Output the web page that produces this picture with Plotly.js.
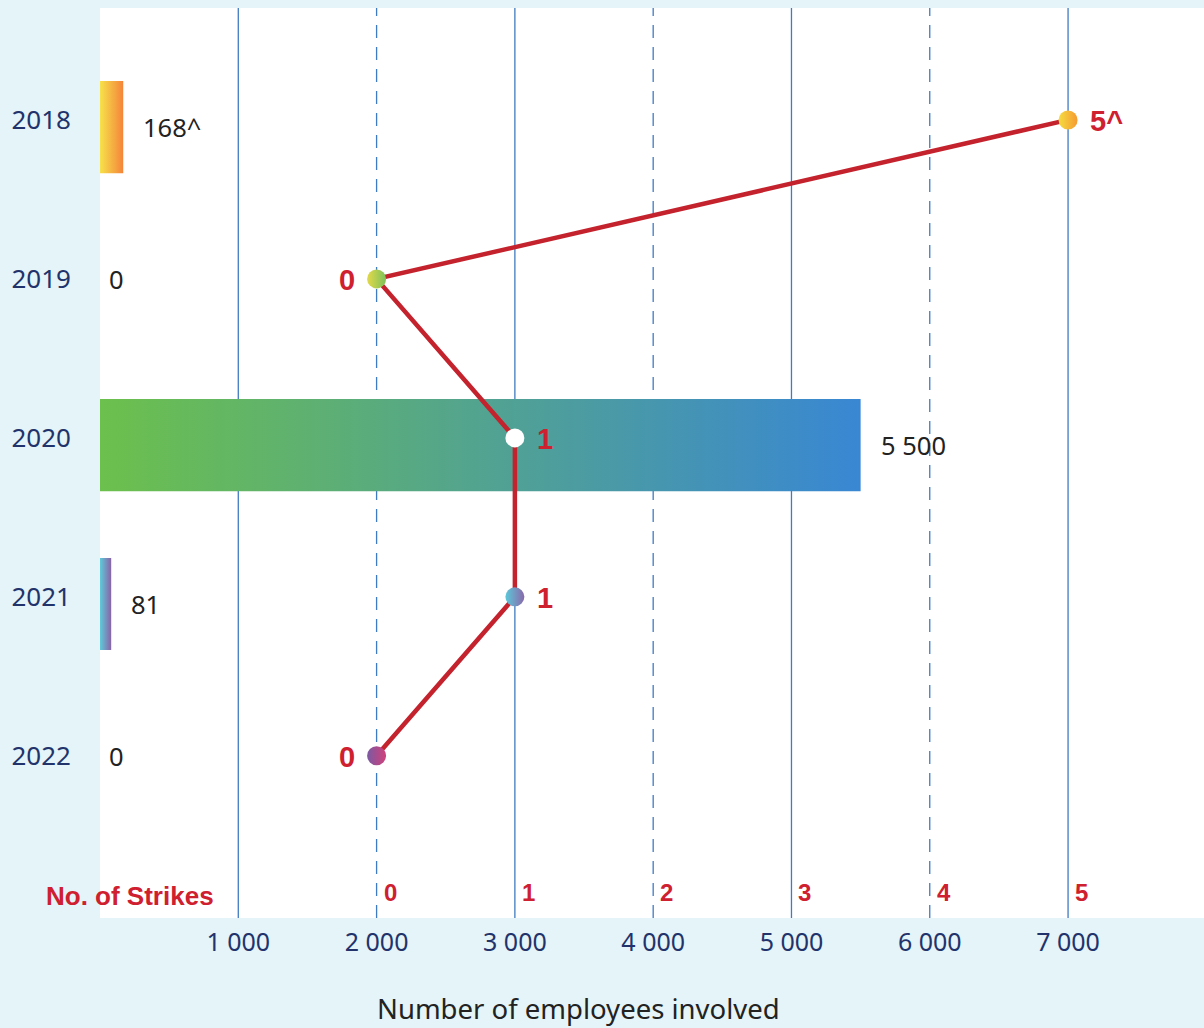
<!DOCTYPE html>
<html><head><meta charset="utf-8">
<script src="https://cdn.plot.ly/plotly-3.0.1.min.js"></script>
<style>html,body{margin:0;padding:0;background:#e4f4f8;}</style>
</head><body><div id="chart" style="width:1204px;height:1028px;"></div>
<script>
const years = [2018, 2019, 2020, 2021, 2022];
const yearLabels = ['2018', '2019', '2020', '2021', '2022'];
const employees = [168, 0, 5500, 81, 0];
const employeeLabels = ['168^', '0', '5 500', '81', '0'];
const strikes = [5, 0, 1, 1, 0];
const strikeLabels = ['5^', '0', '1', '1', '0'];
const strikeLabelSide = ['right', 'left', 'right', 'right', 'left'];
const barGradients = [['#f7e24b', '#f5843a'], null, ['#6cc04c', '#3987d3'], ['#5fcada', '#8a62a6'], null];
const markerLeft = ['#f59a30', '#7cc25a', '#ffffff', '#8a68aa', '#d2407a'];
const markerRight = ['#f6dc40', '#e4d84a', '#ffffff', '#5cc8da', '#7a5aa2'];
const xTickVals = [1000, 2000, 3000, 4000, 5000, 6000, 7000];
const xTickText = ['1 000', '2 000', '3 000', '4 000', '5 000', '6 000', '7 000'];
const gridSolid = [1000, 3000, 5000, 7000];
const gridDashed = [2000, 4000, 6000];
const strikeTicks = [0, 1, 2, 3, 4, 5];

const NAVY = '#22336b';
const RED = '#cf2030';
const GRID = '#3f7bc2';
const BARHALF = 0.29;
const BARSHIFT = 0.045;
const XMAX = 7983;
// strikes axis: 0 strikes sits at 2 000 employees, 1 strike per 1 000
const STRIKE_ORIGIN = 2000, STRIKE_STEP = 1000;

const traces = [];
years.forEach((y, i) => {
  const v = employees[i];
  if (v > 0 && barGradients[i]) {
    const c = y + BARSHIFT;
    traces.push({
      type: 'scatter', mode: 'lines', xaxis: 'x', yaxis: 'y',
      x: [0, v, v, 0, 0],
      y: [c - BARHALF, c - BARHALF, c + BARHALF, c + BARHALF, c - BARHALF],
      fill: 'toself',
      fillgradient: {type: 'horizontal', colorscale: [[0, barGradients[i][0]], [1, barGradients[i][1]]]},
      line: {width: 0, color: 'rgba(0,0,0,0)'},
      hoverinfo: 'skip', showlegend: false
    });
  }
});

traces.push({
  type: 'scatter', mode: 'lines+markers', xaxis: 'x2', yaxis: 'y',
  x: strikes, y: years,
  line: {color: '#c4222c', width: 4.5},
  marker: {size: 19, color: markerRight, gradient: {type: 'horizontal', color: markerLeft}, line: {width: 0}},
  showlegend: false
});

const shapes = [];
gridSolid.forEach(g => shapes.push({type: 'line', xref: 'x', yref: 'paper', x0: g, x1: g, y0: 0, y1: 1, layer: 'below', line: {color: GRID, width: 1.3}}));
gridDashed.forEach(g => shapes.push({type: 'line', xref: 'x', yref: 'paper', x0: g, x1: g, y0: 0, y1: 1, layer: 'below', line: {color: GRID, width: 1.3, dash: '13px,9px'}}));

const annotations = [];
years.forEach((y, i) => {
  const v = employees[i];
  annotations.push({
    xref: 'x', yref: 'y', x: v, y: y, text: employeeLabels[i], showarrow: false,
    xanchor: 'left', yanchor: 'middle', xshift: v > 0 ? 18 : 7, yshift: v > 0 ? -7 : 0,
    font: {family: 'Noto Sans, sans-serif', size: 25.5, color: '#222222'}
  });
  const right = strikeLabelSide[i] === 'right';
  annotations.push({
    xref: 'x2', yref: 'y', x: strikes[i], y: y, text: strikeLabels[i], showarrow: false,
    xanchor: right ? 'left' : 'right', yanchor: 'middle', xshift: right ? 20 : -20, yshift: -1,
    font: {family: 'Liberation Sans, Arial, sans-serif', size: 29, color: RED, weight: 'bold'}
  });
});
strikeTicks.forEach(s => annotations.push({
  xref: 'x2', yref: 'paper', x: s, y: 0.0275, text: String(s), showarrow: false,
  xanchor: 'left', yanchor: 'middle', xshift: 5,
  font: {family: 'Liberation Sans, Arial, sans-serif', size: 24, color: RED, weight: 'bold'}
}));
annotations.push({
  xref: 'paper', yref: 'paper', x: (216 - 100) / 1104, y: 0.024, text: 'No. of Strikes', showarrow: false,
  xanchor: 'right', yanchor: 'middle',
  font: {family: 'Liberation Sans, Arial, sans-serif', size: 26, color: RED, weight: 'bold'}
});
annotations.push({
  xref: 'paper', yref: 'paper', x: (578 - 100) / 1104, y: -(1008 - 918) / 910, text: 'Number of employees involved', showarrow: false,
  xanchor: 'center', yanchor: 'middle',
  font: {family: 'Noto Sans, sans-serif', size: 27.5, color: '#222222'}
});

const layout = {
  width: 1204, height: 1028,
  margin: {l: 100, r: 0, t: 8, b: 110},
  paper_bgcolor: '#e4f4f8', plot_bgcolor: '#ffffff',
  showlegend: false,
  xaxis: {
    range: [0, XMAX], showgrid: false, zeroline: false, showline: false,
    tickvals: xTickVals, ticktext: xTickText, ticks: '', ticklabelstandoff: 7,
    tickfont: {family: 'Noto Sans, sans-serif', size: 25, color: NAVY},
    automargin: false, fixedrange: true
  },
  xaxis2: {range: [(0 - STRIKE_ORIGIN) / STRIKE_STEP, (XMAX - STRIKE_ORIGIN) / STRIKE_STEP], overlaying: 'x', visible: false, fixedrange: true},
  yaxis: {
    range: [2023.02, 2017.296], showgrid: false, zeroline: false, showline: false,
    tickvals: years, ticktext: yearLabels, ticks: '', ticklabelstandoff: 28,
    tickfont: {family: 'Noto Sans, sans-serif', size: 26, color: NAVY},
    automargin: false, fixedrange: true
  },
  shapes: shapes,
  annotations: annotations
};

Plotly.newPlot('chart', traces, layout, {displayModeBar: false, staticPlot: true});
</script></body></html>
